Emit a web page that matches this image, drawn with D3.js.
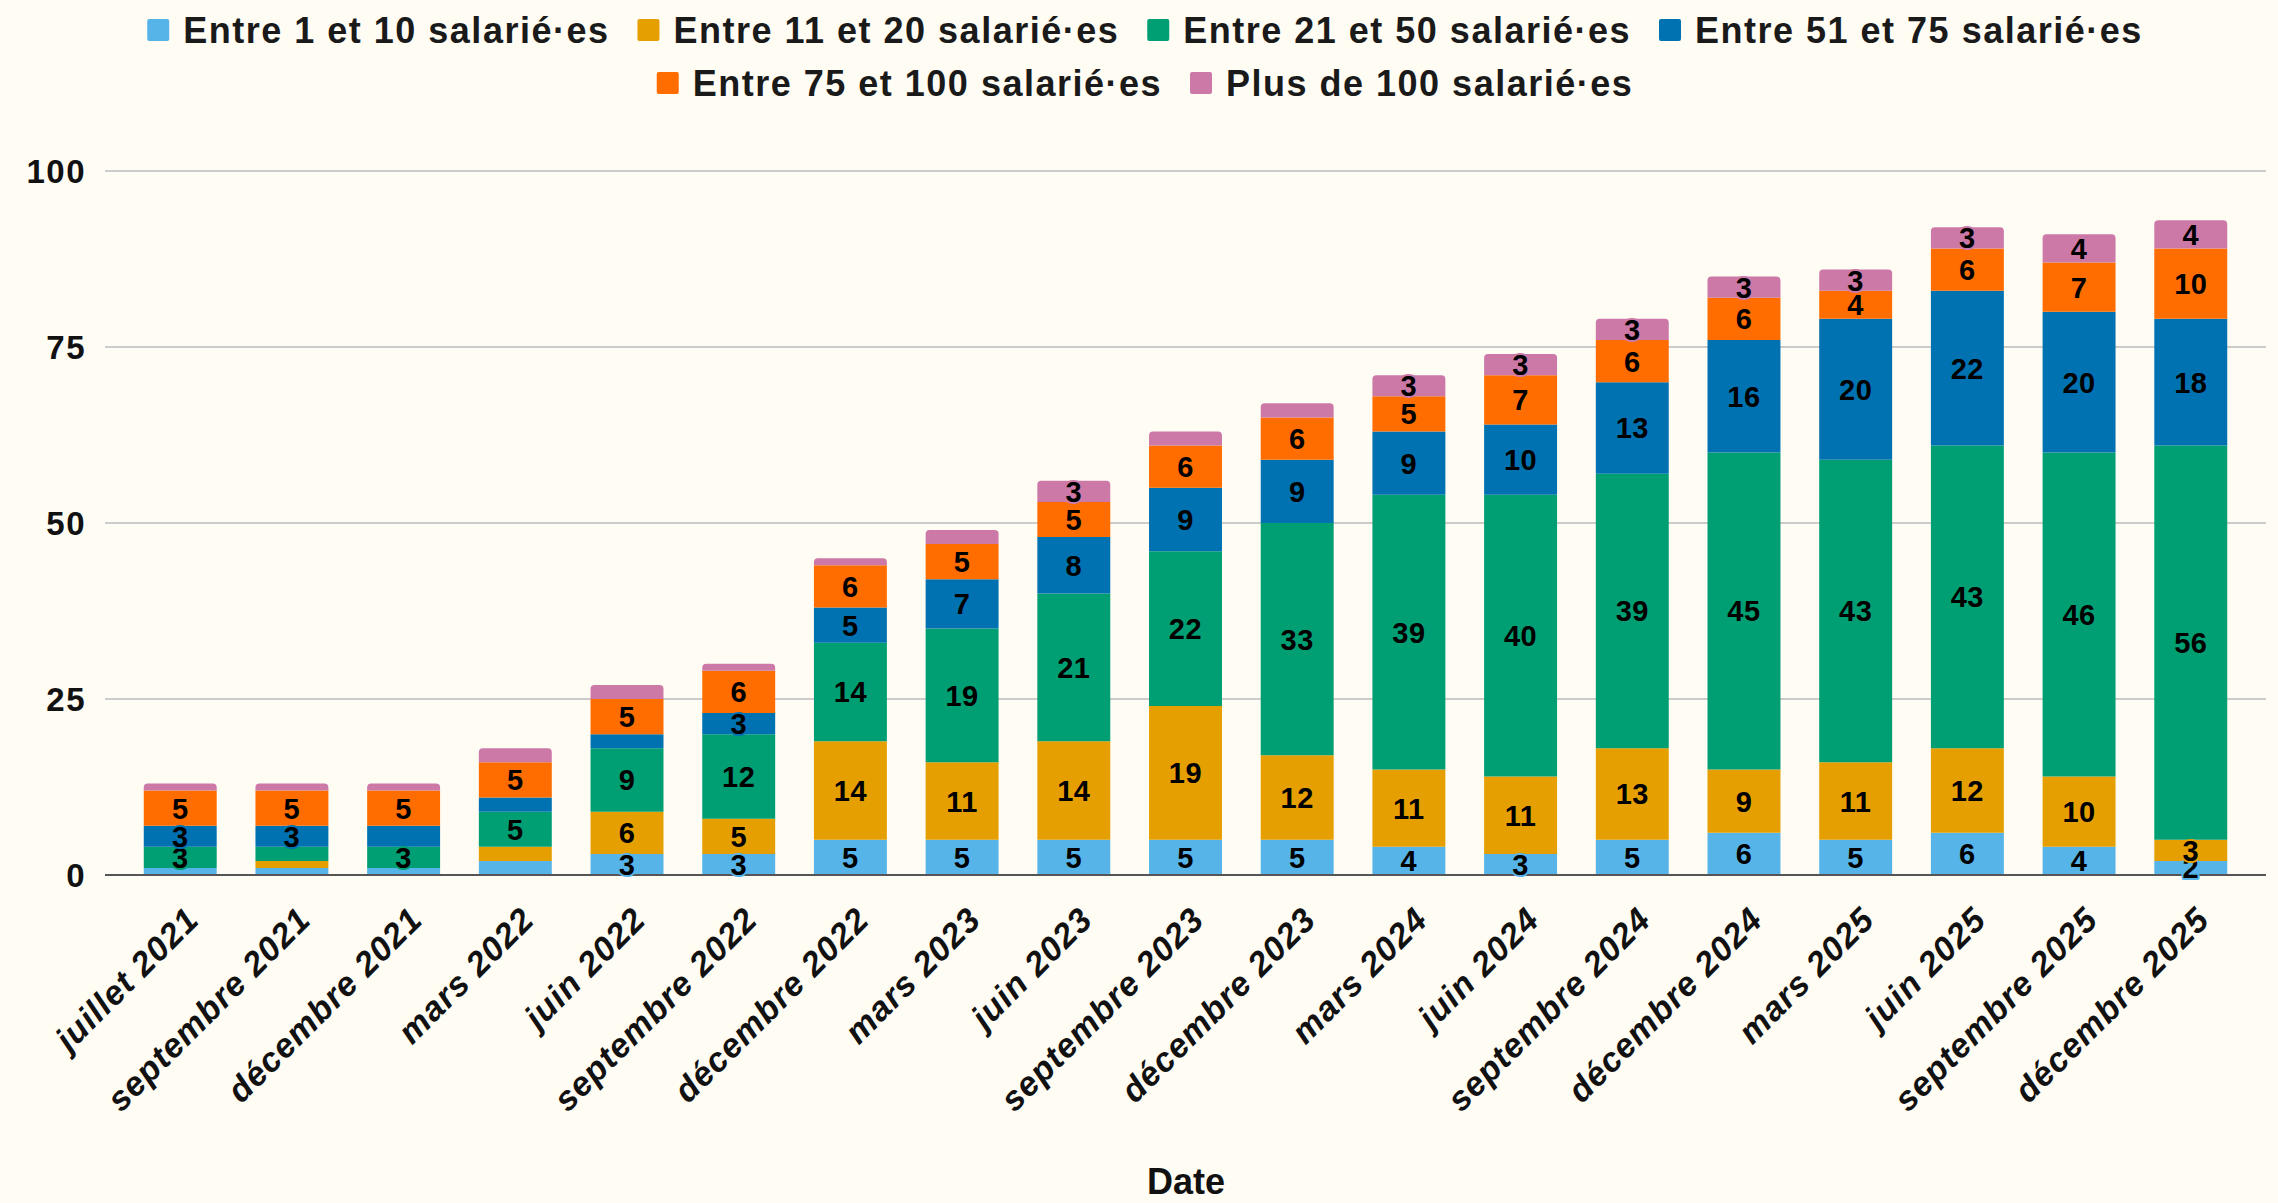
<!DOCTYPE html>
<html>
<head>
<meta charset="utf-8">
<script src="https://cdn.jsdelivr.net/npm/d3@7"></script>
<style>
  html, body { margin: 0; padding: 0; background: #fffcf4; }
  svg { display: block; font-family: "Liberation Sans", Arial, sans-serif; }
</style>
</head>
<body>
<div class="chart"></div>
<script>
// categories
const dates = ["juillet 2021", "septembre 2021", "décembre 2021", "mars 2022", "juin 2022",
  "septembre 2022", "décembre 2022", "mars 2023", "juin 2023", "septembre 2023",
  "décembre 2023", "mars 2024", "juin 2024", "septembre 2024", "décembre 2024",
  "mars 2025", "juin 2025", "septembre 2025", "décembre 2025"]

const seriesNames = ["Entre 1 et 10 salarié·es", "Entre 11 et 20 salarié·es", "Entre 21 et 50 salarié·es",
  "Entre 51 et 75 salarié·es", "Entre 75 et 100 salarié·es", "Plus de 100 salarié·es"]

// values per series
const s1_10 = [1, 1, 1, 2, 3, 3, 5, 5, 5, 5, 5, 4, 3, 5, 6, 5, 6, 4, 2]
const s11_20 = [0, 1, 0, 2, 6, 5, 14, 11, 14, 19, 12, 11, 11, 13, 9, 11, 12, 10, 3]
const s21_50 = [3, 2, 3, 5, 9, 12, 14, 19, 21, 22, 33, 39, 40, 39, 45, 43, 43, 46, 56]
const s51_75 = [3, 3, 3, 2, 2, 3, 5, 7, 8, 9, 9, 9, 10, 13, 16, 20, 22, 20, 18]
const s75_100 = [5, 5, 5, 5, 5, 6, 6, 5, 5, 6, 6, 5, 7, 6, 6, 4, 6, 7, 10]
const s100 = [1, 1, 1, 2, 2, 1, 1, 2, 3, 2, 2, 3, 3, 3, 3, 3, 3, 4, 4]

const yTicks = [0, 25, 50, 75, 100]

// labels that the original hides / shows against the "value >= 3" rule
const hiddenLabels = [["décembre 2021", 3]]
const extraLabels = [["décembre 2025", 0]]

const colors = ["#56b4e9", "#e69f00", "#009e73", "#0072b2", "#ff6d00", "#cc79a7"]

const width = 2278
const height = 1203
const margin = ({top: 171, right: 12, bottom: 328, left: 105})

const allSeries = [s1_10, s11_20, s21_50, s51_75, s75_100, s100]
const table = dates.map((d, i) => {
  const row = {date: d}
  seriesNames.forEach((k, j) => row[k] = allSeries[j][i])
  return row
})

const stack = d3.stack().keys(seriesNames)(table)

const x = d3.scaleBand()
  .domain(dates)
  .range([margin.left, width - margin.right])
  .padding(0.347)

const y = d3.scaleLinear()
  .domain([0, 100])
  .range([height - margin.bottom, margin.top])

const svg = d3.select(".chart").append("svg")
  .attr("width", width)
  .attr("height", height)
  .attr("viewBox", [0, 0, width, height])

svg.append("rect").attr("width", width).attr("height", height).attr("fill", "#fffcf4")

// grid
svg.append("g")
  .attr("stroke", "#cccccc")
  .attr("stroke-width", 2)
  .selectAll("line")
  .data(yTicks.filter(d => d > 0))
  .join("line")
    .attr("x1", margin.left)
    .attr("x2", width - margin.right)
    .attr("y1", d => y(d))
    .attr("y2", d => y(d))

// y axis labels
svg.append("g")
  .attr("font-size", 33)
  .attr("font-weight", "bold")
  .attr("letter-spacing", 1.5)
  .attr("fill", "#111")
  .attr("text-anchor", "end")
  .selectAll("text")
  .data(yTicks)
  .join("text")
    .attr("x", 86)
    .attr("y", d => y(d))
    .attr("dy", "0.36em")
    .text(d => d)

// top of each bar = last non-zero layer
const topIndex = dates.map((d, i) => {
  let t = 0
  seriesNames.forEach((k, j) => { if (allSeries[j][i] > 0) t = j })
  return t
})

const roundTop = (x0, y0, w, h, r) => {
  r = Math.min(r, h)
  return `M${x0},${y0 + h}V${y0 + r}Q${x0},${y0} ${x0 + r},${y0}H${x0 + w - r}Q${x0 + w},${y0} ${x0 + w},${y0 + r}V${y0 + h}Z`
}

const layers = svg.append("g")
  .selectAll("g")
  .data(stack)
  .join("g")
    .attr("fill", (d, j) => colors[j])

layers.selectAll("path")
  .data((d, j) => d.map((v, i) => ({v, i, j})))
  .join("path")
    .attr("d", d => {
      const x0 = x(dates[d.i])
      const y0 = y(d.v[1])
      const h = y(d.v[0]) - y(d.v[1])
      return roundTop(x0, y0, x.bandwidth(), h, topIndex[d.i] === d.j ? 4 : 0)
    })

// zero line
svg.append("line")
  .attr("x1", margin.left)
  .attr("x2", width - margin.right)
  .attr("y1", y(0))
  .attr("y2", y(0))
  .attr("stroke", "#555")
  .attr("stroke-width", 2)

// value labels
const showLabel = (i, j, v) => {
  const d = dates[i]
  if (hiddenLabels.some(p => p[0] === d && p[1] === j)) return false
  if (extraLabels.some(p => p[0] === d && p[1] === j)) return true
  return v >= 3
}

const labelData = []
stack.forEach((layer, j) => {
  layer.forEach((v, i) => {
    const val = v[1] - v[0]
    if (showLabel(i, j, val)) labelData.push({i, j, val, mid: (v[0] + v[1]) / 2})
  })
})

svg.append("g")
  .attr("font-size", 29)
  .attr("font-weight", "bold")
  .attr("letter-spacing", 0.5)
  .attr("text-anchor", "middle")
  .selectAll("text")
  .data(labelData)
  .join("text")
    .attr("x", d => x(dates[d.i]) + x.bandwidth() / 2)
    .attr("y", d => y(d.mid))
    .attr("dy", "0.36em")
    .attr("fill", "#000")
    .attr("stroke", d => colors[d.j])
    .attr("stroke-width", 4)
    .attr("stroke-linejoin", "round")
    .attr("paint-order", "stroke")
    .text(d => d.val)

// x axis labels
svg.append("g")
  .attr("font-size", 34)
  .attr("font-weight", "bold")
  .attr("font-style", "italic")
  .attr("letter-spacing", 1)
  .attr("fill", "#111")
  .attr("text-anchor", "end")
  .selectAll("text")
  .data(dates)
  .join("text")
    .attr("transform", d => `translate(${x(d) + x.bandwidth() / 2 + 12},${y(0) + 38}) rotate(-45)`)
    .attr("dy", "0.36em")
    .text(d => d)

// axis title
svg.append("text")
  .attr("x", 1186)
  .attr("y", 1194)
  .attr("text-anchor", "middle")
  .attr("font-size", 36)
  .attr("font-weight", "bold")
  .attr("fill", "#111")
  .text("Date")

// legend
const legendRows = [seriesNames.slice(0, 4), seriesNames.slice(4)]
const legendY = [30, 83]
const legend = svg.append("g")
  .attr("font-size", 36)
  .attr("font-weight", "bold")
  .attr("letter-spacing", 1.5)
  .attr("fill", "#1a1a1a")

legendRows.forEach((row, r) => {
  const g = legend.append("g")
  let cx = 0
  row.forEach(name => {
    const j = seriesNames.indexOf(name)
    g.append("rect")
      .attr("x", cx)
      .attr("y", legendY[r] - 11)
      .attr("width", 22)
      .attr("height", 22)
      .attr("rx", 2)
      .attr("fill", colors[j])
    const t = g.append("text")
      .attr("x", cx + 36)
      .attr("y", legendY[r])
      .attr("dy", "0.36em")
      .text(name)
    cx += 36 + t.node().getComputedTextLength() + 28
  })
  const w = cx - 28
  g.attr("transform", `translate(${1145 - w / 2},0)`)
})
</script>
</body>
</html>
